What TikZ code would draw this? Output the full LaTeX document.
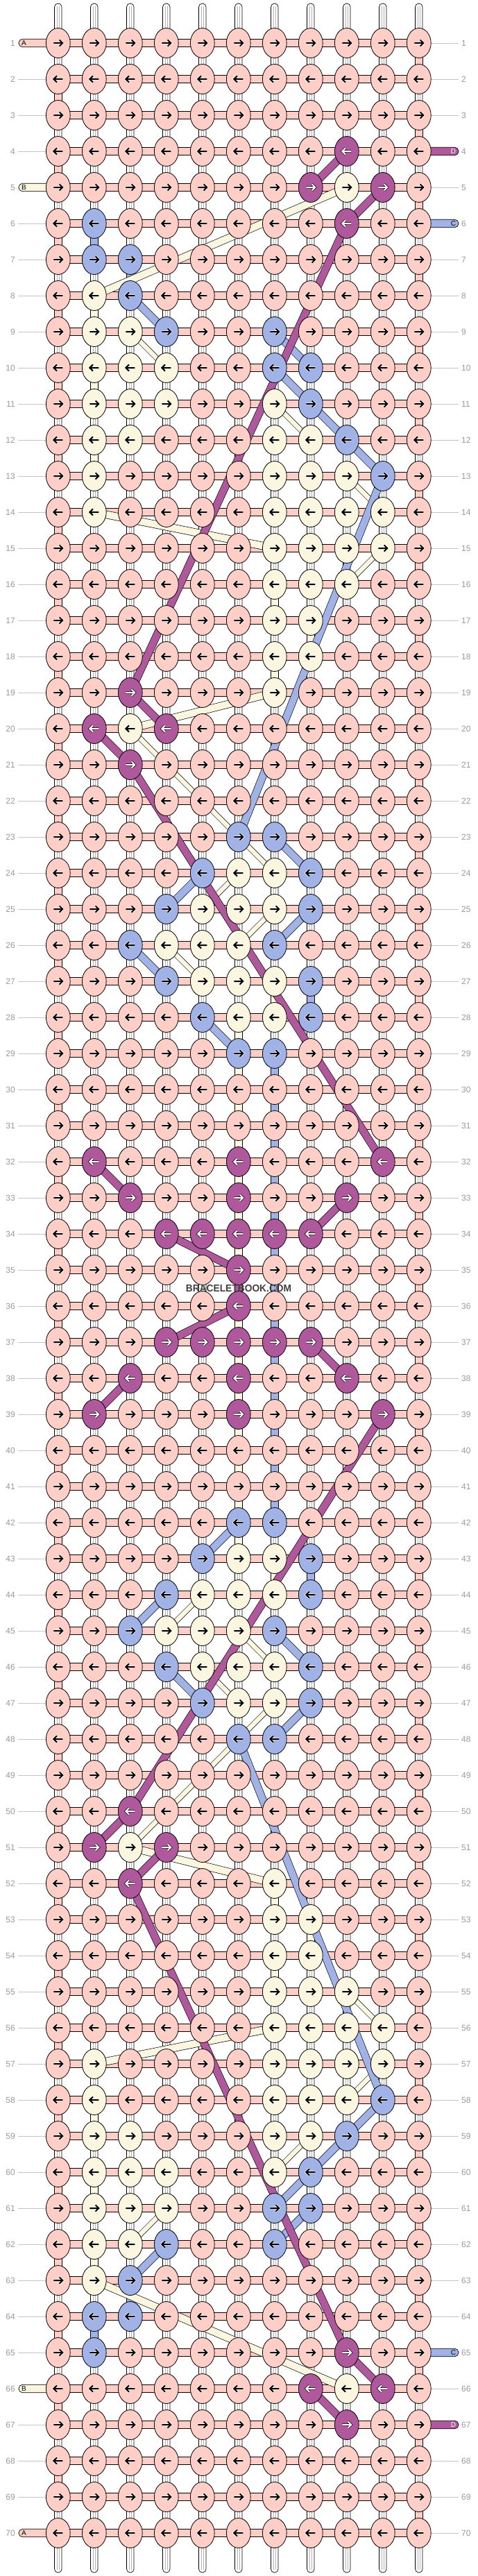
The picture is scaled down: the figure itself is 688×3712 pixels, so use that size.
\documentclass[tikz,border=0pt]{standalone}
\usepackage{fontspec}
\setmainfont{Liberation Sans}
\usetikzlibrary{shapes.geometric}
\definecolor{cA}{HTML}{FFCEC6}
\definecolor{cB}{HTML}{FBF6E0}
\definecolor{cC}{HTML}{A1B3E6}
\definecolor{cD}{HTML}{B0589C}
\definecolor{lbl}{HTML}{9A9A9A}
\definecolor{sideline}{HTML}{C4C4C4}
\tikzset{
 knot/.style={ellipse, draw=black, line width=0.8pt, minimum width=34.8pt, minimum height=43pt, inner sep=0pt, outer sep=0pt},
 conn/.style={draw=black, line width=0.7pt},
 rowlbl/.style={text=lbl, font=\fontsize{12}{12}\selectfont, inner sep=0pt},
 stublbl/.style={font=\fontsize{10}{10}\selectfont, inner sep=0pt},
}
\begin{document}
\begin{tikzpicture}[x=1pt,y=-1pt]
\useasboundingbox (0,0) rectangle (688,3712);
\fill[white] (0,0) rectangle (688,3712);
% grid positions
\foreach \r in {1,...,70}{\foreach \c in {1,...,11}{
  \coordinate (p-\r-\c) at ({83.8+52*(\c-1)},{62+52*(\r-1)});}}
% knot colours (top half, mirrored to the bottom half)
\foreach \r/\c/\k in {4/9/D,
5/8/D,5/9/B,5/10/D,
6/2/C,6/9/D,
7/2/C,7/3/C,
8/2/B,8/3/C,
9/2/B,9/3/B,9/4/C,9/7/C,
10/2/B,10/3/B,10/4/B,10/7/C,10/8/C,
11/2/B,11/3/B,11/4/B,11/7/B,11/8/C,
12/2/B,12/3/B,12/7/B,12/8/B,12/9/C,
13/2/B,13/7/B,13/8/B,13/9/B,13/10/C,
14/2/B,14/7/B,14/8/B,14/9/B,14/10/B,
15/7/B,15/8/B,15/9/B,15/10/B,
16/7/B,16/8/B,16/9/B,
17/7/B,17/8/B,
18/7/B,18/8/B,
19/3/D,19/7/B,
20/2/D,20/3/B,20/4/D,
21/3/D,
23/6/C,23/7/C,
24/5/C,24/6/B,24/7/B,24/8/C,
25/4/C,25/5/B,25/6/B,25/7/B,25/8/C,
26/3/C,26/4/B,26/5/B,26/6/B,26/7/C,
27/4/C,27/5/B,27/6/B,27/7/B,27/8/C,
28/5/C,28/6/B,28/7/B,28/8/C,
29/6/C,29/7/C,
32/2/D,32/6/D,32/10/D,
33/3/D,33/6/D,33/9/D,
34/4/D,34/5/D,34/6/D,34/7/D,34/8/D,
35/6/D}{
  \pgfmathtruncatemacro\rr{71-\r}
  \expandafter\xdef\csname kc-\r-\c\endcsname{\k}
  \expandafter\xdef\csname kc-\rr-\c\endcsname{\k}}
% white vertical strings
\foreach \c in {1,...,11}{
  \pgfmathsetmacro\xx{83.8+52*(\c-1)}
  \draw[fill=white, line width=0.7pt, rounded corners=5pt] (\xx-5.25,5) rectangle (\xx+5.25,3707);
  \draw[black!30, line width=0.45pt] (\xx-1.8,9) -- (\xx-1.8,3703) (\xx+1.8,9) -- (\xx+1.8,3703);
}
% background string turning at the edges
\foreach \r in {1,3,...,69}{\pgfmathtruncatemacro\rn{\r+1}
  \draw[conn, fill=cA] ([xshift=-5.25pt]p-\r-11) rectangle ([xshift=5.25pt]p-\rn-11);}
\foreach \r in {2,4,...,68}{\pgfmathtruncatemacro\rn{\r+1}
  \draw[conn, fill=cA] ([xshift=-5.25pt]p-\r-1) rectangle ([xshift=5.25pt]p-\rn-1);}
% coloured strings running down a column
\foreach \k/\c/\ra/\rb in {B/2/8/9,B/2/10/11,B/2/12/13,B/7/16/17,B/8/17/18,B/7/18/19,B/7/27/28,B/6/28/43,B/7/43/44,B/7/52/53,B/8/53/54,B/7/54/55,B/2/58/59,B/2/60/61,B/2/62/63,
C/2/6/7,C/3/7/8,C/8/27/28,C/7/29/42,C/8/43/44,C/3/63/64,C/2/64/65,D/6/35/36}{
  \draw[conn, fill=c\k] ([xshift=-5.25pt]p-\ra-\c) rectangle ([xshift=5.25pt]p-\rb-\c);}
% horizontal strings
\foreach \r in {1,...,70}{
  \draw[conn, fill=cA] ([yshift=-5.75pt]p-\r-1) rectangle ([yshift=5.75pt]p-\r-11);}
% side lines and row numbers
\foreach \r in {1,...,70}{
  \pgfmathsetmacro\yy{62+52*(\r-1)}
  \draw[sideline, line width=0.9pt] (26,\yy) -- (p-\r-1);
  \draw[sideline, line width=0.9pt] (p-\r-11) -- (661,\yy);
  \node[rowlbl, anchor=east] (ll-\r) at (22,\yy) {\r};
  \node[rowlbl, anchor=west] (rl-\r) at (665,\yy) {\r};
}
% thread ends
\foreach \r/\k in {1/A,5/B,66/B,70/A}{
  \pgfmathsetmacro\yy{62+52*(\r-1)}
  \draw[conn, fill=c\k, rounded corners=5.5pt] (27,\yy-5.75) rectangle (84,\yy+5.75);
  \node[stublbl] (sl-\r) at (34.5,\yy) {\k};}
\foreach \r/\k/\t in {4/D/white,6/C/black,65/C/black,67/D/white}{
  \pgfmathsetmacro\yy{62+52*(\r-1)}
  \draw[conn, fill=c\k, rounded corners=5.5pt] (604,\yy-5.75) rectangle (661,\yy+5.75);
  \node[stublbl, text=\t] (sr-\r) at (653.5,\yy) {\k};}
% diagonal carried strings
\foreach \k/\ra/\ca/\rb/\cb/\w in {B/5/9/8/2/10,B/14/2/15/7/10,B/19/7/20/3/10,B/51/3/52/7/10,B/56/7/57/2/10,B/63/2/66/9/10,
B/9/3/10/4/6.5,B/11/7/12/8/6.5,B/13/9/14/10/6.5,B/15/10/16/9/6.5,B/20/3/24/7/6.5,B/24/6/25/5/6.5,B/25/7/26/6/6.5,B/26/4/27/5/6.5,
B/44/5/45/4/6.5,B/45/6/46/7/6.5,B/46/5/47/6/6.5,B/47/7/51/3/6.5,B/55/9/56/10/6.5,B/57/10/58/9/6.5,B/59/8/60/7/6.5,B/61/4/62/3/6.5,
C/8/3/9/4/10,C/9/7/10/8/10,C/10/7/11/8/10,C/11/8/12/9/10,C/12/9/13/10/10,C/13/10/23/6/10,C/23/7/24/8/10,C/24/5/25/4/10,
C/25/8/26/7/10,C/26/3/27/4/10,C/28/5/29/6/10,C/42/6/43/5/10,C/44/4/45/3/10,C/45/7/46/8/10,C/46/4/47/5/10,C/47/8/48/7/10,
C/48/6/58/10/10,C/58/10/59/9/10,C/59/9/60/8/10,C/60/8/61/7/10,C/61/8/62/7/10,C/62/4/63/3/10,
D/4/9/5/8/10,D/5/10/6/9/10,D/6/9/19/3/10,D/19/3/20/4/10,D/20/2/21/3/10,D/21/3/32/10/10,D/32/2/33/3/10,D/33/9/34/8/10,
D/34/4/35/6/10,D/36/6/37/4/10,D/37/8/38/9/10,D/38/3/39/2/10,D/39/10/50/3/10,D/50/3/51/2/10,D/51/4/52/3/10,D/52/3/65/9/10,
D/65/9/66/10/10,D/66/8/67/9/10}{
  \pgfmathsetmacro\wo{\w+1.3}
  \draw[line width=\wo pt, black] (p-\ra-\ca) -- (p-\rb-\cb);
  \draw[line width=\w pt, c\k] (p-\ra-\ca) -- (p-\rb-\cb);}
% knots with arrows
\foreach \r in {1,...,70}{\foreach \c in {1,...,11}{
  \ifcsname kc-\r-\c\endcsname \edef\k{\csname kc-\r-\c\endcsname}\else\def\k{A}\fi
  \node[knot, fill=c\k] (k-\r-\c) at (p-\r-\c) {};
  \ifodd\r\relax\def\d{1}\else\def\d{-1}\fi
  \if D\k \def\ac{white}\def\hc{black}\else\def\ac{black}\def\hc{white}\fi
  \draw[shift={(p-\r-\c)}, \hc, line width=3.4pt] ({-6.5*\d},0) -- ({6.2*\d},0) ({1.8*\d},-4.6) -- ({6.5*\d},0) -- ({1.8*\d},4.6);
  \draw[shift={(p-\r-\c)}, \ac, line width=2pt] ({-6.5*\d},0) -- ({6.2*\d},0) ({1.8*\d},-4.6) -- ({6.5*\d},0) -- ({1.8*\d},4.6);
}}
% watermark
\node[font=\bfseries\fontsize{14.5}{14.5}\selectfont, text=black!75, xscale=0.95, inner sep=0pt] (wm) at (344,1856) {BRACELETBOOK.COM};
\end{tikzpicture}
\end{document}
